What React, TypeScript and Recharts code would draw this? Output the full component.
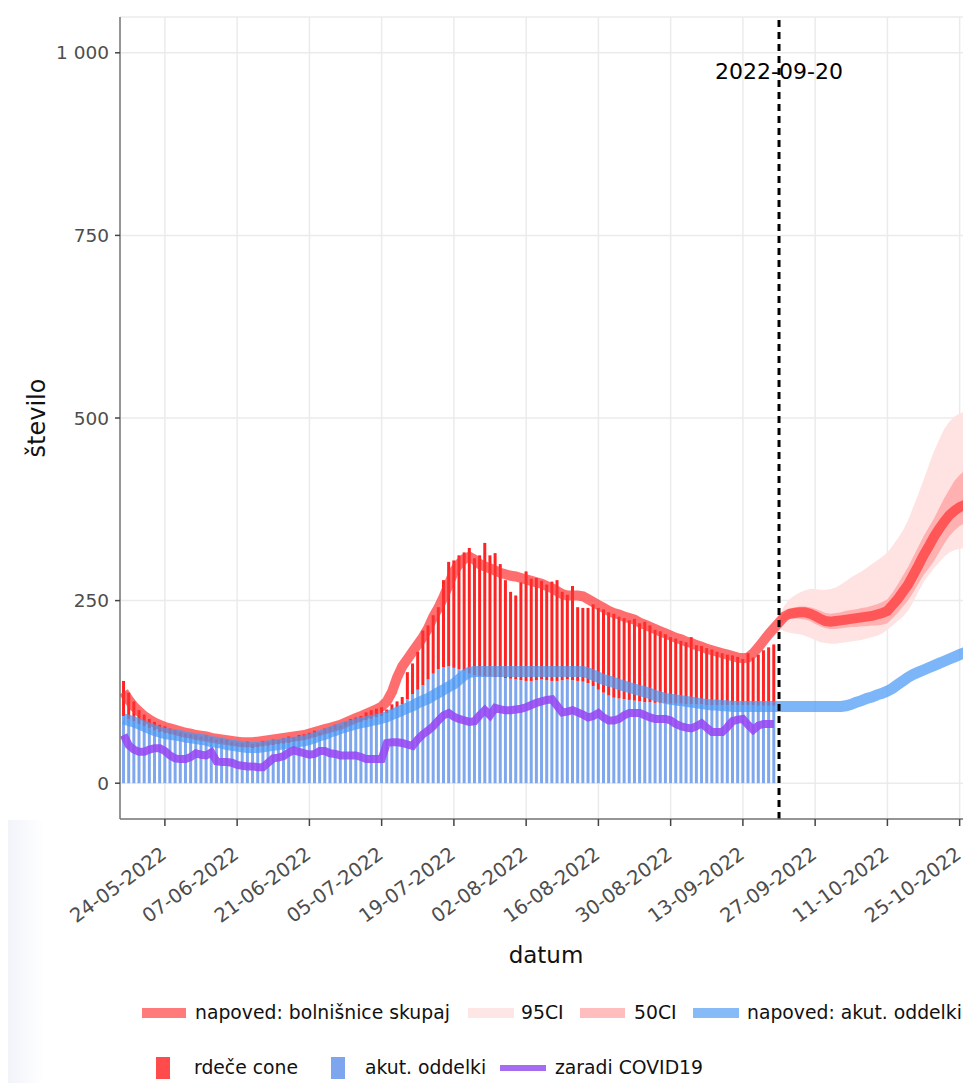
import React from 'react';
import {
  ComposedChart,
  Bar,
  Line,
  Area,
  XAxis,
  YAxis,
  CartesianGrid,
  ReferenceLine
} from 'recharts';

// day 0 = 16-05-2022, forecast starts at day 127 (2022-09-20)
const FORECAST_DAY = 127;

const tickDays = [8, 22, 36, 50, 64, 78, 92, 106, 120, 134, 148, 162];
const tickLabels = [
  '24-05-2022', '07-06-2022', '21-06-2022', '05-07-2022', '19-07-2022', '02-08-2022',
  '16-08-2022', '30-08-2022', '13-09-2022', '27-09-2022', '11-10-2022', '25-10-2022'
];
const yTicks = [0, 250, 500, 750, 1000];

// bolnišnice skupaj (stack top of bars)
const totalBeds = [
  140, 124, 112, 100, 94, 88, 84, 80, 78, 75,
  73, 70, 68, 67, 66, 64, 66, 63, 60, 61,
  60, 57, 56, 55, 57, 54, 55, 58, 57, 60,
  59, 62, 64, 63, 66, 67, 69, 72, 70, 75,
  77, 80, 79, 84, 88, 90, 92, 97, 100, 102,
  104, 101, 108, 112, 118, 152, 164, 180, 209, 216,
  230, 241, 278, 303, 305, 312, 316, 322, 308, 312,
  329, 312, 315, 300, 278, 262, 257, 275, 290, 280,
  281, 277, 272, 276, 278, 262, 258, 270, 241, 240,
  240, 245, 240, 238, 234, 232, 228, 226, 223, 225,
  219, 221, 216, 210, 208, 204, 200, 198, 195, 193,
  200, 189, 188, 185, 183, 180, 178, 176, 175, 173,
  170, 178, 172, 176, 182, 186, 190
];

// akut. oddelki
const acuteBeds = [
  92, 88, 85, 81, 78, 75, 72, 70, 68, 67,
  66, 64, 63, 62, 60, 60, 58, 57, 56, 55,
  53, 52, 51, 50, 49, 48, 49, 50, 51, 52,
  53, 54, 55, 57, 58, 59, 61, 63, 66, 68,
  71, 73, 76, 78, 80, 82, 84, 86, 88, 90,
  92, 96, 100, 104, 108, 115, 122, 128, 134, 142,
  150, 156, 159, 160, 158, 156, 154, 150, 148, 147,
  146, 146, 145, 145, 144, 143, 142, 141, 140, 140,
  141, 142, 141, 140, 140, 141, 142, 141, 140, 139,
  137, 133, 128, 124, 120, 117, 116, 115, 114, 113,
  112, 111, 111, 110, 110, 110, 109, 109, 109, 108,
  108, 108, 108, 107, 107, 107, 107, 107, 107, 107,
  107, 107, 107, 106, 106, 106, 106
];

// zaradi COVID19
const covidBeds = [
  66, 52, 46, 43, 43, 46, 48, 48, 44, 38,
  34, 33, 33, 36, 41, 39, 38, 42, 30, 29,
  29, 28, 25, 24, 23, 23, 22, 22, 28, 34,
  35, 37, 42, 45, 43, 41, 39, 40, 44, 44,
  41, 40, 38, 38, 38, 38, 36, 33, 33, 33,
  33, 55, 56, 56, 55, 53, 51, 60, 67, 72,
  78, 86, 93, 96, 91, 88, 86, 84, 85, 93,
  100, 93, 103, 101, 100, 100, 101, 102, 104, 107,
  110, 112, 114, 115, 106, 97, 98, 100, 97, 94,
  90, 92, 96, 90, 86, 86, 88, 93, 96, 96,
  96, 93, 90, 88, 88, 88, 86, 81, 78, 76,
  75, 78, 82, 76, 70, 70, 70, 77, 85, 87,
  88, 80, 73, 79, 81, 81, 81
];

// napoved: bolnišnice skupaj
const fitTotal = [
  125, 114, 105, 98, 92, 87, 83, 80, 77, 75,
  73, 71, 69, 68, 66, 65, 64, 62, 61, 60,
  59, 58, 57, 56, 56, 56, 57, 58, 59, 60,
  61, 62, 63, 64, 65, 66, 68, 70, 72, 74,
  76, 78, 80, 83, 86, 89, 92, 95, 98, 101,
  105, 112, 125, 145, 160, 170, 180, 190, 200, 212,
  228, 240, 255, 272, 290, 300, 307, 310, 306, 300,
  297, 294, 291, 288, 286, 284, 283, 281, 279, 277,
  275, 273, 270, 267, 263, 259, 257, 257, 257, 256,
  252, 248, 244, 240, 236, 233, 231, 228, 226, 224,
  220, 217, 214, 211, 208, 205, 202, 199, 197, 194,
  192, 189, 187, 184, 182, 180, 178, 176, 174, 172,
  171, 172, 178, 186, 195, 204, 212, 220, 228, 232,
  233, 234, 234, 232, 229, 225, 222, 221, 222, 223,
  224, 225, 226, 227, 228, 229, 231, 233, 236, 244,
  252, 262, 272, 285, 298, 312, 324, 337, 348, 358,
  367, 373, 378, 381, 380
];

// napoved: akut. oddelki
const fitAcute = [
  88, 86, 84, 81, 78, 75, 72, 70, 68, 67,
  66, 65, 63, 62, 61, 60, 59, 57, 56, 55,
  53, 52, 51, 50, 49, 49, 49, 50, 51, 52,
  53, 54, 55, 56, 57, 58, 60, 62, 65, 67,
  70, 72, 75, 77, 79, 81, 83, 84, 86, 87,
  89, 91, 94, 97, 100, 103, 106, 110, 113, 116,
  120, 124, 128, 132, 136, 142, 148, 152, 153, 153,
  153, 153, 153, 153, 153, 153, 153, 153, 153, 153,
  153, 153, 153, 153, 153, 153, 153, 153, 153, 153,
  151, 148, 145, 142, 140, 138, 135, 133, 131, 129,
  127, 125, 123, 120, 118, 116, 115, 114, 113, 112,
  111, 110, 109, 108, 107, 107, 106, 106, 105, 105,
  105, 105, 105, 105, 105, 105, 105, 105, 105, 105,
  105, 105, 105, 105, 105, 105, 105, 105, 105, 105,
  106, 108, 111, 113, 116, 118, 121, 123, 126, 130,
  135, 140, 145, 149, 152, 155, 158, 161, 164, 167,
  170, 173, 176, 179, 182
];

// forecast intervals, from day 127 on
const ci95Low = [
  213, 208, 206, 205, 204, 202, 199, 196, 193, 192,
  191, 191, 192, 193, 194, 195, 196, 198, 200, 202,
  205, 210, 216, 222, 228, 236, 248, 262, 275, 285,
  294, 302, 310, 316, 319, 321, 322, 322
];
const ci95High = [
  227, 243, 252, 257, 261, 264, 266, 266, 265, 265,
  266, 268, 272, 277, 282, 286, 290, 295, 300, 305,
  310, 316, 325, 335, 346, 360, 378, 396, 415, 435,
  454, 470, 485, 495, 502, 506, 509, 511
];
const ci50Low = [
  216, 222, 225, 225, 225, 224, 222, 218, 215, 212,
  211, 211, 212, 213, 214, 214, 215, 215, 216, 216,
  217, 219, 226, 233, 242, 250, 261, 273, 285, 294,
  304, 316, 328, 338, 346, 352, 356, 357
];
const ci50High = [
  224, 233, 239, 241, 242, 242, 241, 239, 236, 233,
  232, 233, 234, 236, 237, 238, 240, 241, 243, 245,
  248, 252, 261, 272, 284, 296, 310, 324, 338, 350,
  362, 376, 390, 402, 414, 422, 428, 430
];

const chartData = fitTotal.map((fit, day) => {
  const row: any = { day, fitTotal: fit, fitAcute: fitAcute[day] };
  if (day < totalBeds.length) {
    row.acute = acuteBeds[day];
    row.red = totalBeds[day] - acuteBeds[day];
    row.covid = covidBeds[day];
  }
  const k = day - FORECAST_DAY;
  if (k >= 0) {
    row.ci95 = [ci95Low[k], ci95High[k]];
    row.ci50 = [ci50Low[k], ci50High[k]];
  }
  return row;
});

const FONT = "'DejaVu Sans', sans-serif";

function DateTick({ x, y, payload }: any) {
  const i = tickDays.indexOf(payload.value);
  return (
    <text
      x={x + 3}
      y={y + 29}
      transform={`rotate(-36, ${x + 3}, ${y + 29})`}
      textAnchor="end"
      fill="#4d4d4d"
      fontSize={19.5}
      fontFamily={FONT}
    >
      {tickLabels[i]}
    </text>
  );
}

const legendText: React.CSSProperties = {
  position: 'absolute',
  fontFamily: FONT,
  fontSize: 18.8,
  color: '#111',
  lineHeight: '24px',
  whiteSpace: 'nowrap'
};

function swatch(left: number, top: number, w: number, h: number, color: string): React.CSSProperties {
  return { position: 'absolute', left, top, width: w, height: h, background: color };
}

export default function App() {
  return (
    <div style={{ position: 'relative', width: 963, height: 1075, fontFamily: FONT }}>
      <style>{'body{overflow:hidden}'}</style>
      <div
        style={{
          position: 'absolute',
          left: -8,
          top: 812,
          width: 44,
          height: 263,
          background: 'linear-gradient(to right, #eef1f9, rgba(238,241,249,0))'
        }}
      />
      <ComposedChart
        width={963}
        height={960}
        data={chartData}
        margin={{ top: 9, right: 0, bottom: 0, left: 0 }}
      >
        <CartesianGrid stroke="#ebebeb" strokeWidth={1.5} />
        <XAxis
          dataKey="day"
          type="number"
          domain={[-0.7, 164.2]}
          allowDataOverflow
          ticks={tickDays}
          interval={0}
          height={149}
          tick={<DateTick />}
          tickSize={7}
          tickLine={{ stroke: '#444', strokeWidth: 1.5 }}
          axisLine={{ stroke: '#777', strokeWidth: 1.5 }}
        />
        <XAxis
          xAxisId="top"
          dataKey="day"
          type="number"
          orientation="top"
          domain={[-0.7, 164.2]}
          allowDataOverflow
          height={0}
          tick={false}
          tickLine={false}
          axisLine={{ stroke: '#777', strokeWidth: 1.5 }}
        />
        <YAxis
          type="number"
          domain={[-49, 1049]}
          allowDataOverflow
          ticks={yTicks}
          width={112}
          tickSize={5}
          tickMargin={6}
          tickFormatter={(v: number) => (v >= 1000 ? '1 000' : String(v))}
          tick={{ fill: '#4d4d4d', fontSize: 18.5, fontFamily: FONT }}
          tickLine={{ stroke: '#444', strokeWidth: 1.5 }}
          axisLine={{ stroke: '#777', strokeWidth: 1.5 }}
        />
        <Bar dataKey="acute" stackId="s" barSize={3} fill="#7fa7ee" isAnimationActive={false} />
        <Bar dataKey="red" stackId="s" barSize={3} fill="#ff2424" isAnimationActive={false} />
        <Area
          type="linear"
          dataKey="ci95"
          stroke="none"
          fill="#ffe3e3"
          fillOpacity={1}
          isAnimationActive={false}
        />
        <Area
          type="linear"
          dataKey="ci50"
          stroke="none"
          fill="#ff8f8f"
          fillOpacity={0.6}
          isAnimationActive={false}
        />
        <Line
          type="linear"
          dataKey="fitTotal"
          stroke="#ff3030"
          strokeOpacity={0.7}
          strokeWidth={10}
          dot={false}
          isAnimationActive={false}
        />
        <Line
          type="linear"
          dataKey="fitAcute"
          stroke="#4a9af5"
          strokeOpacity={0.72}
          strokeWidth={11}
          dot={false}
          isAnimationActive={false}
        />
        <Line
          type="linear"
          dataKey="covid"
          stroke="#9747f2"
          strokeOpacity={0.88}
          strokeWidth={8}
          dot={false}
          isAnimationActive={false}
        />
        <ReferenceLine
          x={FORECAST_DAY}
          stroke="#000"
          strokeWidth={3}
          strokeDasharray="7 5"
          label={{ value: '2022-09-20', position: 'insideTop', offset: 46, fill: '#000', fontSize: 22, fontFamily: FONT }}
        />
      </ComposedChart>

      <div
        style={{
          position: 'absolute',
          left: 29,
          top: 410,
          transform: 'translate(-50%, -50%) rotate(-90deg)',
          fontSize: 24,
          color: '#111',
          whiteSpace: 'nowrap'
        }}
      >
        število
      </div>
      <div
        style={{
          position: 'absolute',
          left: 538,
          top: 947,
          transform: 'translate(-50%, -50%)',
          fontSize: 23,
          color: '#111'
        }}
      >
        datum
      </div>

      <div style={swatch(134, 1000, 44, 10, '#ff7a7a')} />
      <div style={{ ...legendText, left: 187, top: 993 }}>napoved: bolnišnice skupaj</div>
      <div style={swatch(460, 1000, 46, 10, '#ffe6e6')} />
      <div style={{ ...legendText, left: 513, top: 993 }}>95CI</div>
      <div style={swatch(572, 1000, 45, 10, '#ffbdbd')} />
      <div style={{ ...legendText, left: 626, top: 993 }}>50CI</div>
      <div style={swatch(685, 1000, 46, 10, '#86bbf8')} />
      <div style={{ ...legendText, left: 739, top: 993 }}>napoved: akut. oddelki</div>

      <div style={swatch(148, 1049, 14, 22, '#ff4b4b')} />
      <div style={{ ...legendText, left: 186, top: 1048 }}>rdeče cone</div>
      <div style={swatch(323, 1049, 14, 22, '#7ea6ee')} />
      <div style={{ ...legendText, left: 357, top: 1048 }}>akut. oddelki</div>
      <div style={swatch(492, 1057, 46, 6, '#a66cf0')} />
      <div style={{ ...legendText, left: 547, top: 1048 }}>zaradi COVID19</div>
    </div>
  );
}
